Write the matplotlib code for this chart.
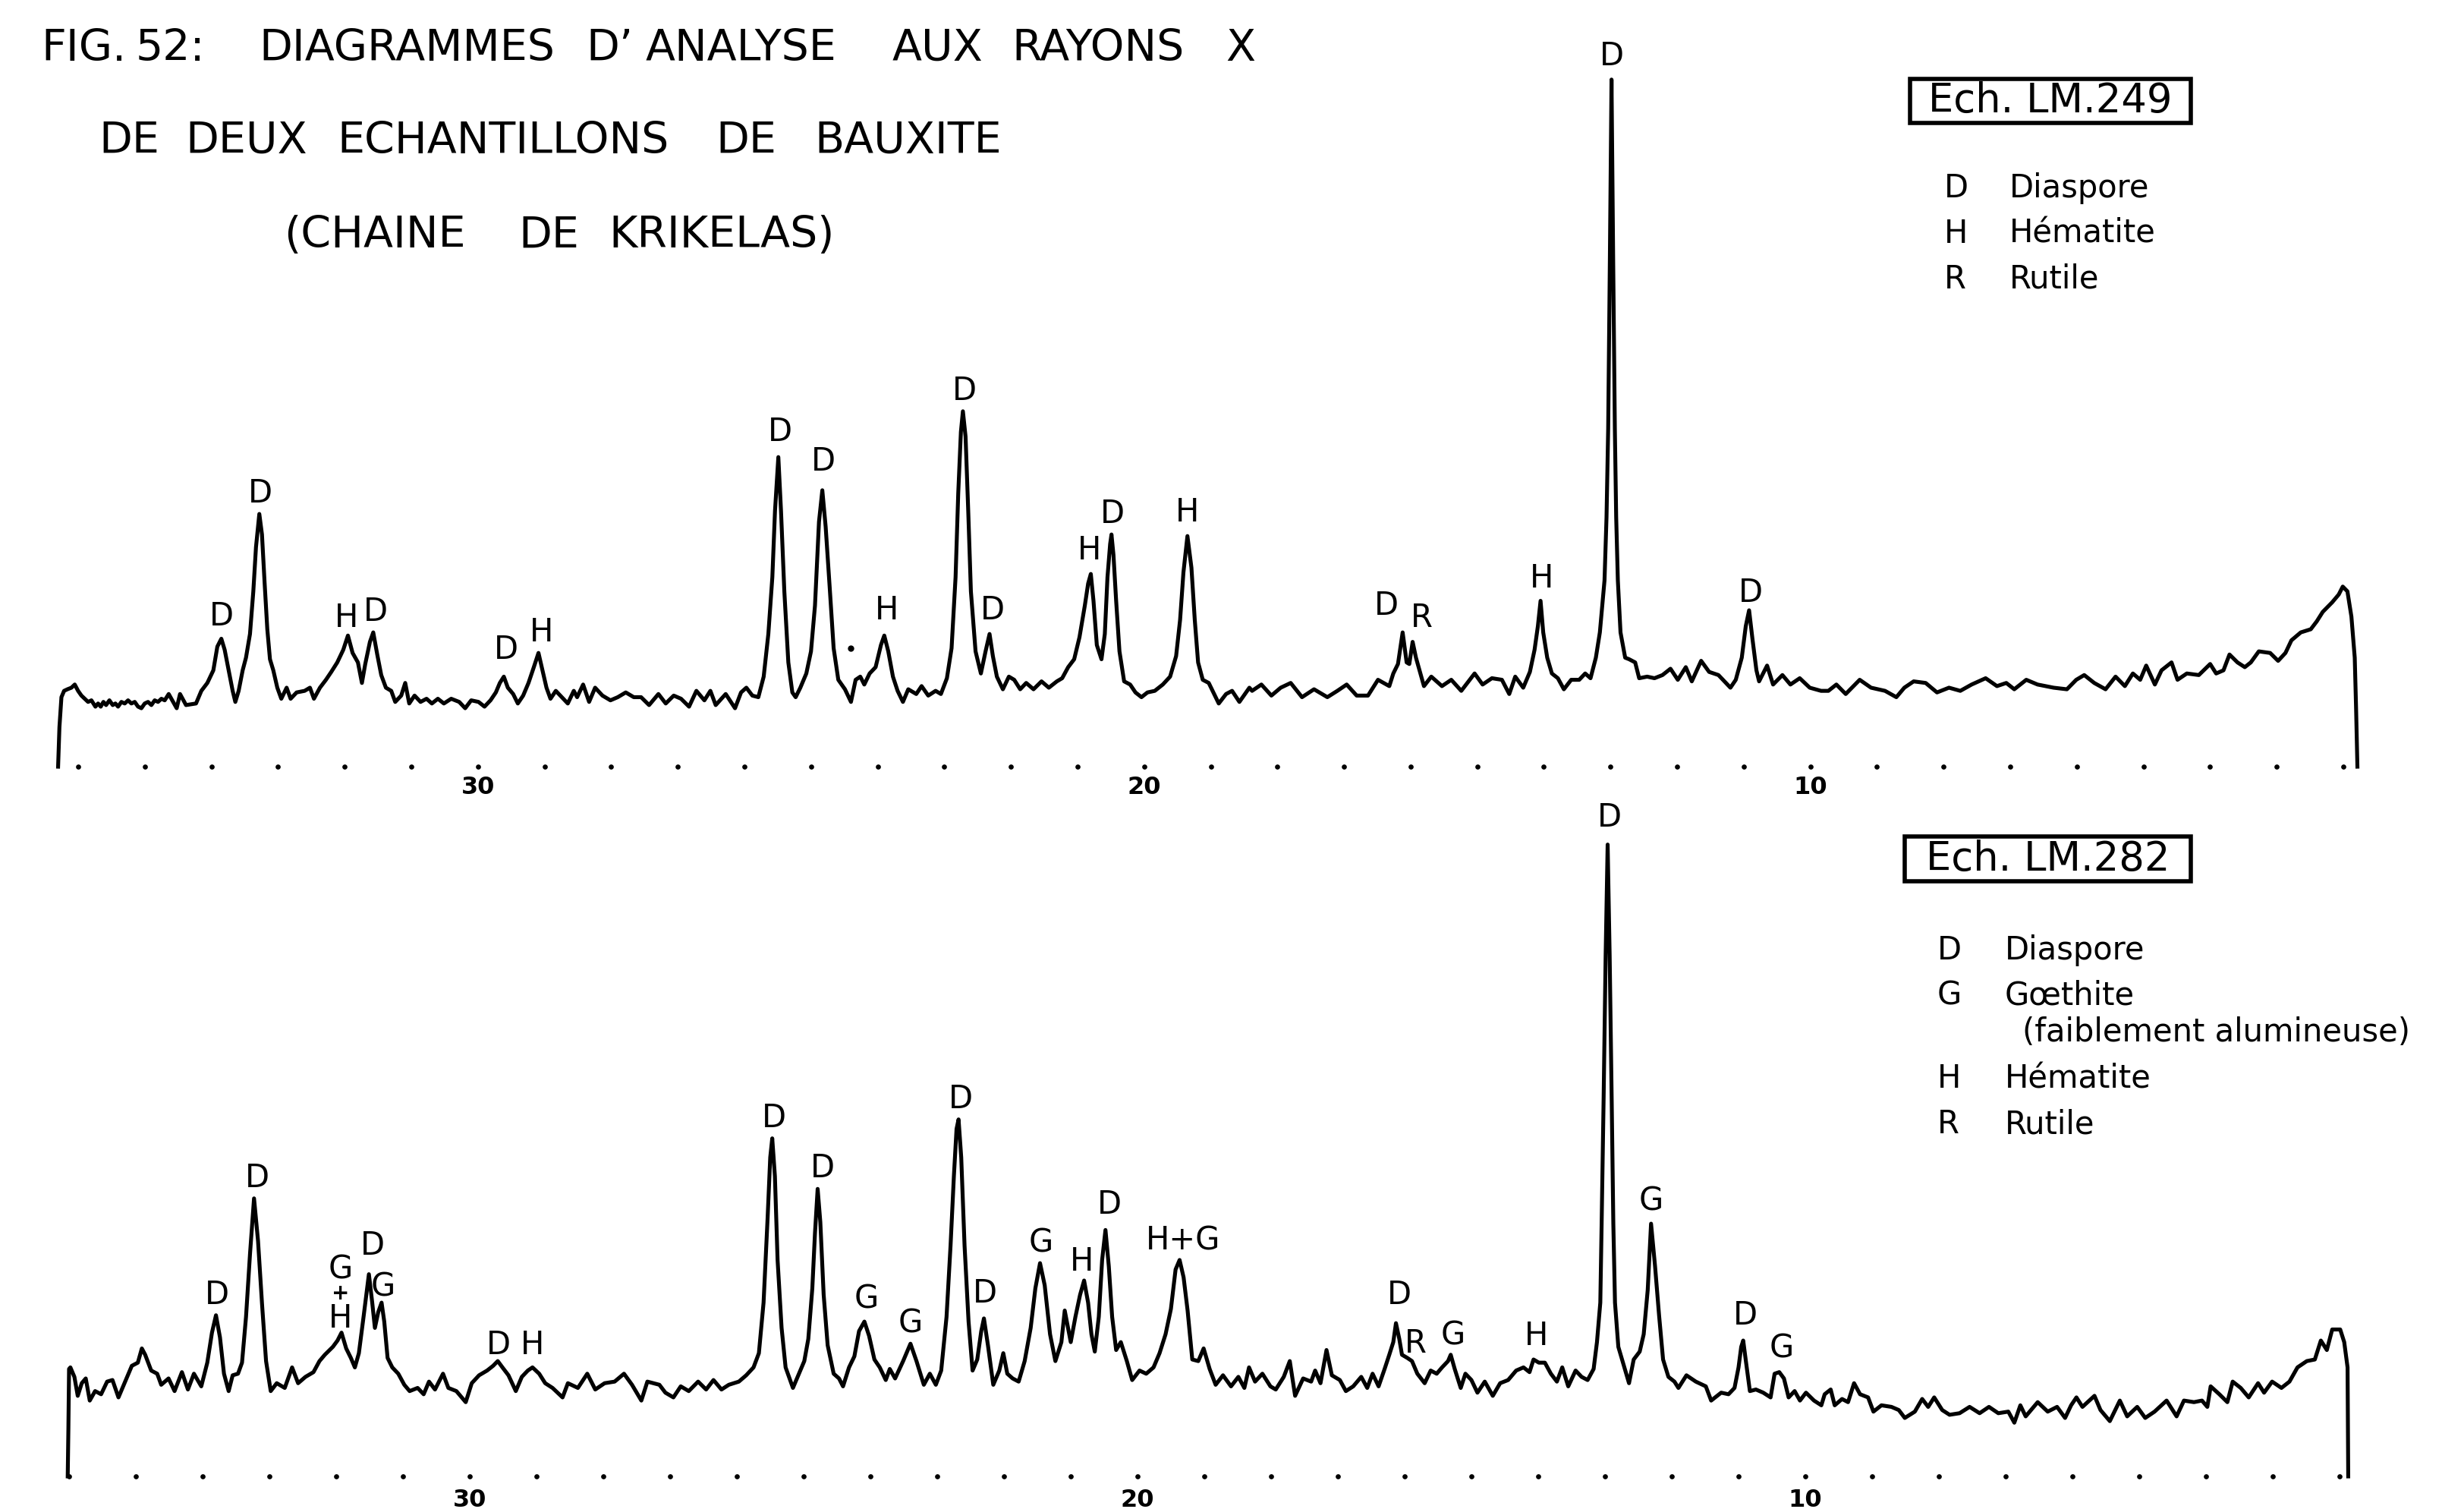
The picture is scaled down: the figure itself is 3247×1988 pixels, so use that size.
import matplotlib as mpl
mpl.use('Agg')
import matplotlib.pyplot as plt
import matplotlib.patches as patches
import numpy as np

plt.rcParams['font.family'] = ['DejaVu Sans']

lm249_trace = [
    (36.30, 0), (36.28, 25), (36.25, 44), (36.21, 48), (36.16, 49), (36.10, 50), (36.05, 52), (36.00, 48),
    (35.95, 45), (35.90, 43), (35.85, 41), (35.80, 42), (35.74, 38), (35.70, 40), (35.66, 38), (35.62, 41),
    (35.58, 39), (35.53, 42), (35.48, 39), (35.44, 40), (35.40, 38), (35.35, 41), (35.30, 40), (35.25, 42),
    (35.20, 40), (35.15, 41), (35.10, 38), (35.05, 37), (35.00, 40), (34.95, 41), (34.90, 39), (34.85, 42),
    (34.80, 41), (34.75, 43), (34.70, 42), (34.64, 46), (34.52, 37), (34.47, 46), (34.38, 39), (34.23, 40),
    (34.15, 48), (34.06, 53), (33.97, 61), (33.91, 76), (33.85, 81), (33.80, 74), (33.74, 61), (33.68, 48),
    (33.64, 41), (33.59, 48), (33.53, 61), (33.48, 69), (33.42, 84), (33.37, 111), (33.33, 139), (33.28, 160),
    (33.24, 147), (33.20, 116), (33.16, 87), (33.12, 68), (33.07, 61), (33.01, 50), (32.95, 43), (32.87, 50),
    (32.81, 43), (32.72, 47), (32.60, 48), (32.52, 50), (32.46, 43), (32.37, 50), (32.28, 55), (32.20, 60),
    (32.11, 66), (32.02, 74), (31.95, 83), (31.88, 72), (31.80, 66), (31.74, 53), (31.69, 65), (31.62, 79),
    (31.57, 85), (31.51, 71), (31.45, 58), (31.38, 50), (31.30, 48), (31.24, 41), (31.15, 45), (31.09, 53),
    (31.03, 40), (30.95, 45), (30.86, 41), (30.77, 43), (30.69, 40), (30.60, 43), (30.51, 40), (30.40, 43),
    (30.28, 41), (30.19, 37), (30.10, 42), (29.99, 41), (29.90, 38), (29.81, 42), (29.73, 47), (29.67, 53),
    (29.61, 57), (29.55, 50), (29.47, 46), (29.40, 40), (29.32, 45), (29.24, 53), (29.16, 63), (29.09, 72),
    (29.03, 61), (28.97, 50), (28.91, 43), (28.83, 48), (28.74, 44), (28.65, 40), (28.56, 48), (28.51, 44),
    (28.42, 52), (28.33, 41), (28.24, 50), (28.13, 45), (28.01, 42), (27.90, 44), (27.78, 47), (27.66, 44),
    (27.55, 44), (27.43, 39), (27.29, 46), (27.18, 40), (27.06, 45), (26.95, 43), (26.83, 38), (26.72, 48),
    (26.60, 42), (26.51, 48), (26.43, 39), (26.28, 46), (26.14, 37), (26.05, 47), (25.97, 50), (25.88, 45),
    (25.79, 44), (25.71, 57), (25.64, 84), (25.58, 120), (25.54, 162), (25.49, 196), (25.45, 162), (25.40, 111),
    (25.34, 66), (25.28, 47), (25.23, 44), (25.16, 50), (25.07, 59), (25.00, 73), (24.94, 102), (24.88, 155),
    (24.83, 175), (24.78, 152), (24.72, 114), (24.66, 75), (24.59, 55), (24.49, 49), (24.40, 41), (24.33, 55),
    (24.26, 57), (24.20, 52), (24.12, 59), (24.03, 63), (23.95, 77), (23.90, 83), (23.84, 73), (23.77, 57),
    (23.70, 48), (23.62, 41), (23.54, 49), (23.42, 46), (23.34, 51), (23.24, 45), (23.13, 48), (23.05, 46),
    (22.96, 56), (22.89, 75), (22.83, 120), (22.79, 173), (22.75, 212), (22.72, 225), (22.68, 209), (22.64, 162),
    (22.60, 111), (22.53, 73), (22.45, 59), (22.38, 73), (22.32, 84), (22.27, 70), (22.21, 57), (22.12, 49),
    (22.03, 57), (21.95, 55), (21.86, 49), (21.77, 53), (21.66, 49), (21.54, 54), (21.43, 50), (21.31, 54),
    (21.23, 56), (21.14, 63), (21.05, 68), (20.97, 82), (20.89, 102), (20.84, 116), (20.80, 122), (20.76, 105),
    (20.71, 77), (20.64, 68), (20.59, 84), (20.55, 120), (20.51, 141), (20.49, 147), (20.46, 134), (20.42, 105),
    (20.37, 73), (20.30, 54), (20.21, 52), (20.13, 47), (20.04, 44), (19.95, 47), (19.84, 48), (19.72, 52),
    (19.61, 57), (19.52, 70), (19.46, 93), (19.41, 123), (19.35, 146), (19.29, 126), (19.24, 93), (19.19, 66),
    (19.12, 55), (19.03, 53), (18.88, 40), (18.77, 46), (18.68, 48), (18.57, 41), (18.42, 50), (18.38, 48),
    (18.24, 52), (18.09, 45), (17.95, 50), (17.80, 53), (17.63, 44), (17.45, 49), (17.25, 44), (17.10, 48),
    (16.96, 52), (16.81, 45), (16.64, 45), (16.49, 55), (16.32, 51), (16.26, 59), (16.19, 65), (16.12, 85),
    (16.06, 66), (16.02, 65), (15.97, 79), (15.92, 69), (15.86, 60), (15.80, 51), (15.69, 57), (15.53, 51),
    (15.39, 55), (15.24, 48), (15.04, 59), (14.92, 52), (14.78, 56), (14.63, 55), (14.52, 46), (14.43, 57),
    (14.31, 50), (14.21, 60), (14.14, 74), (14.09, 89), (14.05, 105), (14.01, 85), (13.95, 69), (13.88, 59),
    (13.79, 56), (13.70, 49), (13.59, 55), (13.47, 55), (13.38, 59), (13.30, 56), (13.22, 69), (13.16, 85),
    (13.09, 118), (13.06, 158), (13.035, 214), (13.01, 320), (12.985, 435), (12.96, 320), (12.935, 214),
    (12.915, 158), (12.89, 118), (12.85, 85), (12.78, 69), (12.72, 68), (12.63, 66), (12.57, 56), (12.45, 57),
    (12.34, 56), (12.22, 58), (12.10, 62), (11.99, 55), (11.87, 63), (11.78, 54), (11.64, 67), (11.52, 60),
    (11.38, 58), (11.20, 50), (11.12, 55), (11.03, 69), (10.97, 89), (10.92, 99), (10.87, 81), (10.81, 61),
    (10.77, 54), (10.65, 64), (10.56, 52), (10.42, 58), (10.30, 52), (10.16, 56), (10.01, 50), (9.84, 48),
    (9.73, 48), (9.61, 52), (9.47, 46), (9.26, 55), (9.09, 50), (8.88, 48), (8.71, 44), (8.59, 50),
    (8.45, 54), (8.27, 53), (8.10, 47), (7.92, 50), (7.75, 48), (7.58, 52), (7.37, 56), (7.20, 51),
    (7.06, 53), (6.94, 49), (6.76, 55), (6.59, 52), (6.35, 50), (6.15, 49), (6.01, 55), (5.89, 58),
    (5.74, 53), (5.57, 49), (5.42, 57), (5.28, 51), (5.16, 59), (5.05, 55), (4.96, 64), (4.83, 52),
    (4.73, 61), (4.58, 66), (4.49, 55), (4.35, 59), (4.17, 58), (4.00, 65), (3.91, 59), (3.80, 61),
    (3.71, 71), (3.59, 66), (3.48, 63), (3.39, 66), (3.27, 73), (3.10, 72), (2.98, 67), (2.87, 72),
    (2.78, 80), (2.64, 85), (2.49, 87), (2.40, 92), (2.31, 98), (2.17, 104), (2.07, 109), (2.01, 114),
    (1.94, 111), (1.88, 95), (1.83, 69), (1.81, 37), (1.79, 0),
]

# same for Ech. LM.282
lm282_trace = [
    (36.02, 0), (36.01, 30), (36.00, 68), (35.98, 69), (35.92, 63), (35.87, 51), (35.81, 59), (35.75, 62),
    (35.69, 48), (35.61, 54), (35.52, 52), (35.43, 60), (35.35, 61), (35.26, 50), (35.17, 59), (35.06, 70),
    (34.97, 72), (34.91, 81), (34.86, 77), (34.77, 67), (34.68, 65), (34.62, 58), (34.51, 62), (34.42, 54),
    (34.31, 66), (34.22, 55), (34.13, 65), (34.02, 57), (33.93, 72), (33.86, 91), (33.80, 102), (33.74, 88),
    (33.68, 65), (33.61, 54), (33.55, 64), (33.47, 65), (33.41, 72), (33.35, 101), (33.29, 141), (33.23, 176),
    (33.17, 149), (33.11, 109), (33.05, 73), (32.98, 54), (32.89, 59), (32.77, 56), (32.66, 69), (32.57, 59),
    (32.46, 63), (32.34, 66), (32.25, 73), (32.17, 77), (32.05, 82), (31.98, 86), (31.92, 91), (31.85, 81),
    (31.78, 75), (31.72, 69), (31.66, 78), (31.59, 101), (31.51, 128), (31.46, 110), (31.42, 94), (31.37, 104),
    (31.32, 110), (31.28, 98), (31.23, 75), (31.16, 69), (31.07, 65), (30.98, 58), (30.90, 54), (30.78, 56),
    (30.69, 52), (30.61, 60), (30.52, 55), (30.40, 65), (30.32, 56), (30.20, 54), (30.06, 47), (29.97, 59),
    (29.86, 64), (29.74, 67), (29.65, 70), (29.58, 73), (29.51, 69), (29.42, 64), (29.31, 54), (29.22, 63),
    (29.13, 67), (29.06, 69), (28.96, 65), (28.87, 59), (28.76, 56), (28.61, 50), (28.53, 59), (28.38, 56),
    (28.24, 65), (28.12, 55), (27.98, 59), (27.83, 60), (27.69, 65), (27.57, 58), (27.43, 48), (27.34, 60),
    (27.16, 58), (27.07, 53), (26.95, 50), (26.84, 57), (26.72, 54), (26.58, 60), (26.46, 55), (26.35, 61),
    (26.23, 55), (26.12, 58), (25.97, 60), (25.86, 64), (25.75, 69), (25.67, 78), (25.60, 110), (25.54, 163),
    (25.50, 202), (25.47, 214), (25.43, 190), (25.39, 137), (25.33, 94), (25.27, 69), (25.16, 56), (25.08, 64),
    (24.99, 73), (24.93, 87), (24.87, 119), (24.83, 154), (24.79, 182), (24.75, 161), (24.70, 115), (24.64, 83),
    (24.55, 65), (24.47, 62), (24.41, 57), (24.32, 69), (24.24, 76), (24.17, 92), (24.09, 98), (24.02, 89),
    (23.94, 74), (23.86, 69), (23.77, 61), (23.71, 68), (23.63, 62), (23.51, 73), (23.40, 84), (23.31, 73),
    (23.20, 58), (23.11, 65), (23.02, 58), (22.94, 67), (22.86, 101), (22.80, 146), (22.75, 190), (22.71, 220),
    (22.68, 226), (22.64, 202), (22.59, 146), (22.53, 98), (22.47, 67), (22.40, 74), (22.34, 92), (22.30, 100),
    (22.24, 83), (22.16, 58), (22.07, 67), (22.01, 78), (21.95, 65), (21.87, 62), (21.78, 60), (21.69, 73),
    (21.60, 94), (21.53, 119), (21.46, 135), (21.39, 121), (21.31, 90), (21.23, 73), (21.14, 85), (21.09, 105),
    (21.00, 85), (20.93, 101), (20.86, 115), (20.80, 124), (20.74, 110), (20.69, 90), (20.64, 79), (20.58, 101),
    (20.53, 137), (20.48, 156), (20.43, 133), (20.38, 101), (20.32, 80), (20.25, 85), (20.16, 73), (20.08, 61),
    (19.97, 67), (19.87, 65), (19.76, 69), (19.67, 78), (19.58, 90), (19.50, 106), (19.43, 131), (19.37, 137),
    (19.31, 126), (19.25, 105), (19.18, 74), (19.09, 73), (19.01, 81), (18.92, 68), (18.83, 58), (18.72, 64),
    (18.60, 57), (18.49, 63), (18.40, 56), (18.33, 69), (18.24, 60), (18.13, 65), (18.01, 57), (17.93, 55),
    (17.81, 63), (17.72, 73), (17.64, 51), (17.52, 62), (17.40, 60), (17.34, 67), (17.26, 59), (17.17, 80),
    (17.09, 64), (16.97, 61), (16.88, 54), (16.77, 57), (16.65, 63), (16.56, 56), (16.48, 65), (16.39, 57),
    (16.30, 68), (16.23, 77), (16.17, 85), (16.13, 97), (16.08, 87), (16.04, 77), (15.96, 75), (15.89, 73),
    (15.81, 65), (15.70, 59), (15.61, 67), (15.52, 65), (15.44, 69), (15.35, 73), (15.31, 77), (15.25, 68),
    (15.16, 56), (15.09, 65), (15.00, 61), (14.91, 53), (14.80, 60), (14.68, 51), (14.57, 59), (14.45, 61),
    (14.33, 67), (14.22, 69), (14.13, 66), (14.07, 74), (13.99, 72), (13.90, 72), (13.81, 65), (13.72, 60),
    (13.64, 69), (13.55, 57), (13.44, 67), (13.35, 63), (13.26, 61), (13.17, 68), (13.12, 85), (13.07, 110),
    (13.05, 160), (13.02, 240), (12.99, 330), (12.96, 400), (12.93, 330), (12.90, 240), (12.875, 160),
    (12.85, 110), (12.80, 82), (12.71, 69), (12.64, 59), (12.57, 74), (12.48, 79), (12.42, 90), (12.36, 118),
    (12.31, 160), (12.25, 133), (12.19, 102), (12.13, 74), (12.05, 63), (11.96, 60), (11.90, 56), (11.78, 64),
    (11.64, 60), (11.49, 57), (11.41, 48), (11.26, 53), (11.15, 52), (11.06, 56), (11.00, 69), (10.96, 82),
    (10.93, 86), (10.89, 73), (10.83, 54), (10.74, 55), (10.63, 53), (10.52, 50), (10.46, 65), (10.39, 66),
    (10.32, 62), (10.25, 50), (10.16, 54), (10.08, 48), (9.99, 53), (9.87, 48), (9.76, 45), (9.71, 52),
    (9.62, 55), (9.56, 45), (9.45, 49), (9.36, 47), (9.27, 59), (9.18, 52), (9.06, 50), (8.98, 41),
    (8.86, 45), (8.71, 44), (8.60, 42), (8.51, 37), (8.36, 41), (8.25, 49), (8.16, 44), (8.07, 50),
    (7.95, 42), (7.84, 39), (7.69, 40), (7.54, 44), (7.39, 40), (7.25, 44), (7.11, 40), (6.96, 41),
    (6.87, 34), (6.78, 45), (6.70, 38), (6.52, 47), (6.37, 41), (6.23, 44), (6.11, 37), (6.02, 45),
    (5.94, 50), (5.85, 44), (5.67, 51), (5.58, 42), (5.44, 35), (5.29, 48), (5.18, 38), (5.03, 44),
    (4.91, 37), (4.77, 41), (4.59, 48), (4.44, 38), (4.33, 48), (4.18, 47), (4.06, 48), (3.98, 44),
    (3.93, 57), (3.80, 52), (3.68, 47), (3.60, 60), (3.48, 56), (3.36, 50), (3.22, 59), (3.13, 53),
    (3.01, 60), (2.87, 56), (2.75, 60), (2.63, 69), (2.49, 73), (2.37, 74), (2.28, 86), (2.19, 80),
    (2.11, 93), (1.99, 93), (1.93, 85), (1.88, 69), (1.87, 0),
]

# peak letters: (2-theta, height of letter centre, text)
lm249_labels = [
    (33.85, 95, 'D'), (33.27, 173, 'D'), (31.97, 94, 'H'), (31.53, 98, 'D'), (29.58, 74, 'D'),
    (29.05, 85, 'H'), (25.46, 212, 'D'), (24.81, 193, 'D'), (23.86, 99, 'H'), (22.70, 238, 'D'),
    (22.28, 99, 'D'), (20.82, 137, 'H'), (20.47, 160, 'D'), (19.35, 161, 'H'), (16.36, 102, 'D'),
    (15.83, 94, 'R'), (14.03, 119, 'H'), (12.98, 450, 'D'), (10.90, 110, 'D'),
]
lm282_labels = [
    (33.79, 115, 'D'), (33.18, 189, 'D'), (31.94, 131, 'G'), (31.94, 100, 'H'), (31.46, 146, 'D'),
    (31.30, 120, 'G'), (29.57, 83, 'D'), (29.06, 83, 'H'), (25.44, 227, 'D'), (24.72, 195, 'D'),
    (24.06, 112, 'G'), (23.40, 97, 'G'), (22.65, 239, 'D'), (22.28, 116, 'D'), (21.45, 148, 'G'),
    (20.83, 136, 'H'), (20.42, 172, 'D'), (19.32, 149, 'H+G'), (16.08, 115, 'D'), (15.84, 84, 'R'),
    (15.28, 89, 'G'), (14.03, 89, 'H'), (12.93, 417, 'D'), (12.31, 174, 'G'), (10.90, 102, 'D'),
    (10.36, 81, 'G'),
]

tick_dots = list(range(2, 37))
tick_labels = [30, 20, 10]

# title words and the left edge of each word (pixels)
title_words = [
    [('FIG.', 54), ('52:', 179), ('DIAGRAMMES', 341), ('D’', 772), ('ANALYSE', 851), ('AUX', 1176),
     ('RAYONS', 1333), ('X', 1615)],
    [('DE', 130), ('DEUX', 244), ('ECHANTILLONS', 444), ('DE', 943), ('BAUXITE', 1073)],
    [('(CHAINE', 374), ('DE', 683), ('KRIKELAS)', 802)],
]
title_rows_y = [64, 186, 311]

legend_249 = [('D', 'Diaspore'), ('H', 'Hématite'), ('R', 'Rutile')]
legend_282 = [('D', 'Diaspore'), ('G', 'Gœthite'), ('', '(faiblement alumineuse)'),
              ('H', 'Hématite'), ('R', 'Rutile')]

W, H = 3248, 1988
fig = plt.figure(figsize=(W / 100, H / 100), dpi=100)
fig.patch.set_facecolor('white')


def fx(px):
    return px / W


def fy(py):
    return 1 - py / H


def draw_panel(rect, trace, labels, lab_y):
    ax = fig.add_axes(rect)
    ax.axis('off')
    ax.set_xlim(36.5, 1.5)
    ax.set_ylim(-12, 470)
    arr = np.array(trace)
    ax.plot(arr[:, 0], arr[:, 1], color='black', lw=3.7, solid_joinstyle='round', clip_on=False)
    ax.plot(tick_dots, np.zeros(len(tick_dots)), 'o', color='black', ms=3.8, clip_on=False)
    for t in tick_labels:
        ax.text(t, lab_y, str(t), ha='center', va='center', fontsize=23, fontweight='bold')
    for x, y, s in labels:
        ax.text(x, y, s, ha='center', va='center', fontsize=30)
    return ax


ax1 = draw_panel([fx(59), fy(1035), fx(3132) - fx(59), 1003 / H], lm249_trace, lm249_labels, -13)
ax1.plot([24.40], [75], 'o', color='black', ms=5)

ax2 = draw_panel([fx(47), fy(1970), fx(3127) - fx(47), 1003 / H], lm282_trace, lm282_labels, -15)
ax2.text(31.94, 116, '+', ha='center', va='center', fontsize=20, fontweight='bold')

# title, word by word
for row, y in zip(title_words, title_rows_y):
    for word, x in row:
        fig.text(fx(x), fy(y), word, fontsize=41, va='center', ha='left')


def sample_box(x0, x1, y0, y1, txt):
    fig.patches.append(patches.Rectangle((fx(x0), fy(y1)), fx(x1) - fx(x0), fy(y0) - fy(y1),
                                         transform=fig.transFigure, fill=False, ec='black', lw=4))
    fig.text(fx((x0 + x1) / 2), fy((y0 + y1) / 2), txt, fontsize=38, ha='center', va='center')


sample_box(2517, 2887, 104, 162, 'Ech. LM.249')
for i, (k, name) in enumerate(legend_249):
    y = 248 + 60 * i
    fig.text(fx(2562), fy(y), k, fontsize=30, va='center', ha='left')
    fig.text(fx(2648), fy(y), name, fontsize=30, va='center', ha='left')

sample_box(2510, 2887, 1102, 1161, 'Ech. LM.282')
ys_282 = [1252, 1312, 1360, 1421, 1481]
for (k, name), y in zip(legend_282, ys_282):
    if k:
        fig.text(fx(2553), fy(y), k, fontsize=30, va='center', ha='left')
        fig.text(fx(2642), fy(y), name, fontsize=30, va='center', ha='left')
    else:
        fig.text(fx(2665), fy(y), name, fontsize=30, va='center', ha='left')

plt.savefig('out.png', dpi=100, facecolor='white')
